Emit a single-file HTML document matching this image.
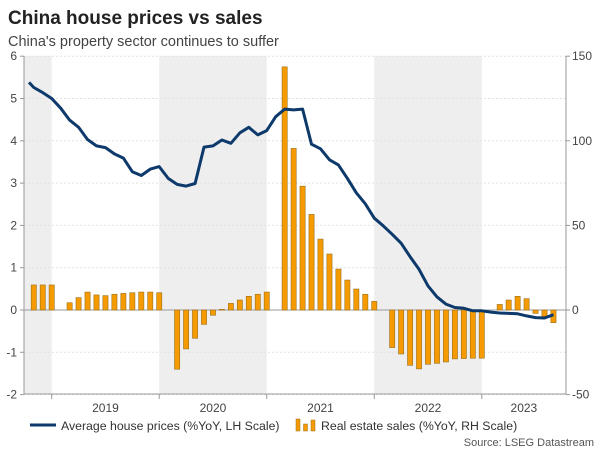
<!DOCTYPE html>
<html><head><meta charset="utf-8"><style>
body{margin:0;background:#fff;font-family:"Liberation Sans",sans-serif}
svg text{font-family:"Liberation Sans",sans-serif}
</style></head><body>
<svg id="chart" width="600" height="450" viewBox="0 0 600 450" xmlns="http://www.w3.org/2000/svg">
<text x="8" y="24" font-size="19" font-weight="bold" fill="#222">China house prices vs sales</text>
<text x="8" y="46" font-size="14.5" fill="#444">China's property sector continues to suffer</text>
<g id="bands"></g><g id="grid"></g><g id="bars"></g><g id="line"></g><g id="axes"></g>
<g>
<line x1="30" y1="425" x2="56" y2="425" stroke="#0d3a6b" stroke-width="3"/>
<text x="61" y="430" font-size="12.3" fill="#333">Average house prices (%YoY, LH Scale)</text>
<rect x="296" y="419" width="4" height="12" fill="#f59b00" stroke="#9a7020" stroke-width="0.5"/>
<rect x="303.5" y="424" width="4" height="7" fill="#f59b00" stroke="#9a7020" stroke-width="0.5"/>
<rect x="311" y="420" width="4" height="11" fill="#f59b00" stroke="#9a7020" stroke-width="0.5"/>
<text x="321" y="430" font-size="12.3" fill="#333">Real estate sales (%YoY, RH Scale)</text>
</g>
<text x="594" y="446" font-size="11" fill="#555" text-anchor="end">Source: LSEG Datastream</text>
</svg>
<script>
// month index 0 = Jan 2019
const lineValues=[5.38,5.26,5.14,5.00,4.77,4.49,4.32,4.03,3.88,3.84,3.69,3.59,3.27,3.18,3.33,3.39,3.11,2.97,2.93,2.99,3.85,3.88,4.02,3.94,4.19,4.32,4.14,4.24,4.57,4.75,4.73,4.75,3.92,3.81,3.55,3.43,3.11,2.77,2.51,2.17,1.99,1.79,1.58,1.26,0.96,0.57,0.31,0.14,0.06,0.04,-0.02,-0.02,-0.05,-0.07,-0.08,-0.09,-0.14,-0.18,-0.19,-0.11];
const lineStartMonth=-3;
const barMonths=[-2,-1,0,2,3,4,5,6,7,8,9,10,11,12,14,15,16,17,18,19,20,21,22,23,24,26,27,28,29,30,31,32,33,34,35,36,38,39,40,41,42,43,44,45,46,47,48,50,51,52,53,54,55,56];
const barValues=[14.8,14.8,14.8,4.3,7.3,10.6,8.9,8.5,9.3,9.8,10.2,10.6,10.6,10.2,-35.0,-23.0,-16.7,-8.5,-3.1,0.4,3.9,5.9,8.1,9.3,10.6,143.7,95.5,73.2,56.5,41.9,33.1,24.2,17.7,12.4,9.3,5.1,-22.2,-26.0,-32.7,-34.8,-32.1,-31.5,-30.7,-28.9,-28.7,-28.5,-28.5,3.3,5.9,8.1,6.7,-2.0,-3.9,-7.5];
const leftTicks=[-2,-1,0,1,2,3,4,5,6];
const rightTicks=[-50,0,50,100,150];
const years=["2019","2020","2021","2022","2023"];
const shadedYears=[-1,1,3];

const NS="http://www.w3.org/2000/svg";
const X0=24,X1=566,Y_TOP=56,Y_BOT=394;
const xM=m=>51.7+m*8.96;
const yL=v=>310-(v)*42.3;
const yR=v=>310-v*(84.6/50);
function el(tag,attrs,parent){const e=document.createElementNS(NS,tag);for(const k in attrs)e.setAttribute(k,attrs[k]);document.getElementById(parent).appendChild(e);return e;}
shadedYears.forEach(y=>{
  const a=Math.max(X0,xM(y*12)),b=Math.min(X1,xM(y*12+12));
  const r=el('rect',{x:a,y:Y_TOP,width:b-a,height:Y_BOT-Y_TOP,fill:'#eeeeee'},'bands');
  
  
});
leftTicks.forEach(v=>{
  const g=el('line',{x1:X0,x2:X1,y1:yL(v),y2:yL(v),stroke:v===0?'#999':'#e2e2e2','stroke-width':1,'stroke-dasharray':v===0?'':'2,2'},'grid');
  
  
  const t=el('text',{x:17,y:yL(v)+4,'font-size':12,fill:'#444','text-anchor':'end'},'axes');
  t.textContent=v;
  
  
  el('line',{x1:X0-4,x2:X0,y1:yL(v),y2:yL(v),stroke:'#999'},'axes');
});
rightTicks.forEach(v=>{
  el('line',{x1:X1,x2:X1+4,y1:yR(v),y2:yR(v),stroke:'#999'},'axes');
  const t=el('text',{x:572,y:yR(v)+4,'font-size':12,fill:'#444'},'axes');
  t.textContent=v;
  
  
});
barMonths.forEach((m,i)=>{
  const v=barValues[i],y0=yR(0),y1=yR(v);
  const r=el('rect',{x:xM(m)-2.6,y:Math.min(y0,y1),width:5.2,height:Math.max(0.8,Math.abs(y1-y0)),fill:'#f59b00',stroke:'#9a7020','stroke-width':0.6},'bars');
  
  
});
const pts=lineValues.map((v,i)=>{const x=Math.max(29,xM(lineStartMonth+i));return x.toFixed(1)+','+yL(v).toFixed(1);}).join(' ');
const pl=el('polyline',{points:pts,fill:'none',stroke:'#0d3a6b','stroke-width':3,'stroke-linejoin':'round'},'line');


el('line',{x1:X0,x2:X0,y1:Y_TOP,y2:Y_BOT,stroke:'#999'},'axes');
el('line',{x1:X1,x2:X1,y1:Y_TOP,y2:Y_BOT,stroke:'#999'},'axes');
el('line',{x1:X0,x2:X1,y1:Y_BOT,y2:Y_BOT,stroke:'#999'},'axes');
years.forEach((yr,i)=>{
  el('line',{x1:xM(i*12),x2:xM(i*12),y1:Y_BOT,y2:Y_BOT+5,stroke:'#999'},'axes');
  const c=i===4?(xM(48)+X1)/2:xM(i*12+6);
  const t=el('text',{x:c,y:412,'font-size':12,fill:'#444','text-anchor':'middle'},'axes');
  t.textContent=yr;
  
  
});
</script>
</body></html>
